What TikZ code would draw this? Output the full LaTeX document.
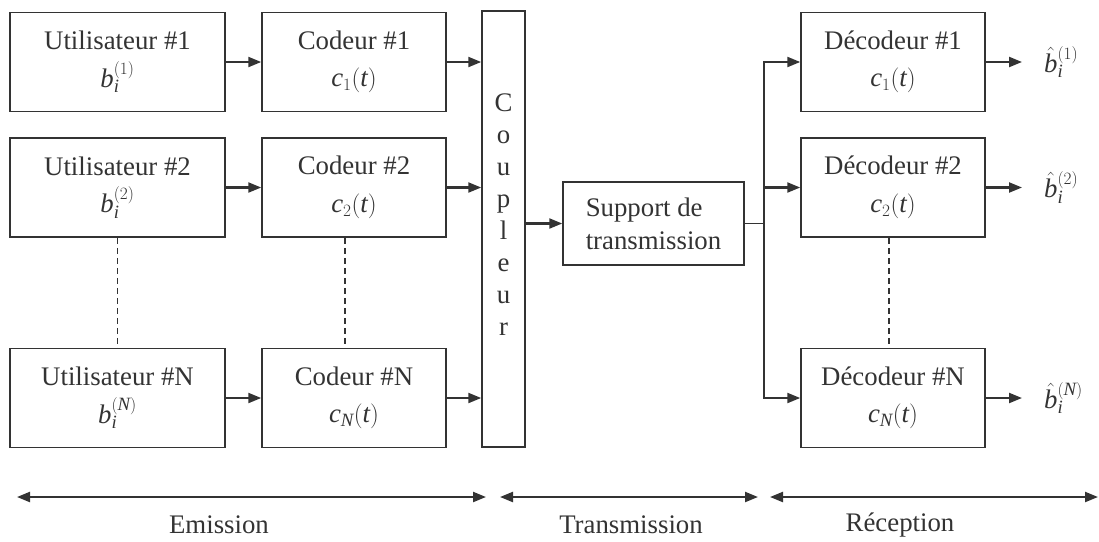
\documentclass[tikz,border=0pt]{standalone}
\usepackage{fontspec}
\setmainfont{Liberation Serif}
\usetikzlibrary{arrows.meta}
\definecolor{trait}{HTML}{333333}
\tikzset{>={Triangle[length=13pt,width=10pt]}}
\newcommand{\bits}[1]{$\mathit{b}_{\mathit{i}}^{(#1)}$}
\newcommand{\bitsest}[1]{$\hat{\mathit{b}}_{\mathit{i}}^{(#1)}$}
\newcommand{\code}[1]{$\mathit{c}_{#1}(\mathit{t})$}

\begin{document}
\begin{tikzpicture}[x=1pt, y=-1pt,
  font=\fontsize{26.8}{33}\selectfont,
  bloc/.style={draw=trait, line width=1.5pt, text=trait, align=center, inner sep=0pt, minimum height=99pt},
  fleche/.style={->, draw=trait, line width=2.2pt},
  pointille/.style={draw=trait, line width=1.3pt, dash pattern=on 6pt off 4pt},
  etiq/.style={text=trait, inner sep=0pt}]
\useasboundingbox (0,0) rectangle (1099,541);
% emission
\node[bloc, minimum width=215pt] (U1) at (117.5,62) {Utilisateur \#1\\[4.5pt] \bits{1}};
\node[bloc, minimum width=215pt] (U2) at (117.5,187.5) {Utilisateur \#2\\[4.5pt] \bits{2}};
\node[bloc, minimum width=215pt] (UN) at (117.5,398) {Utilisateur \#N\\[4.5pt] \bits{\mathit{N}}};
\node[bloc, minimum width=184pt] (C1) at (354,62) {Codeur \#1\\[4.5pt] \code{1}};
\node[bloc, minimum width=184pt] (C2) at (354,187.5) {Codeur \#2\\[4.5pt] \code{2}};
\node[bloc, minimum width=184pt] (CN) at (354,398) {Codeur \#N\\[4.5pt] \code{\mathit{N}}};
\node[bloc, minimum width=43pt, minimum height=436pt] (coupleur) at (503.5,229) {};
\node[etiq, align=center, font=\fontsize{26.8}{32}\selectfont] (lettres) at (503.5,215) {C\\o\\u\\p\\l\\e\\u\\r};
% transmission
\node[bloc, minimum width=181pt, minimum height=83pt, align=left] (support) at (653.5,223.5) {Support de\\transmission};
\coordinate (noeud) at (764,223.5);
% reception
\node[bloc, minimum width=184pt] (D1) at (893,62) {Décodeur \#1\\[4.5pt] \code{1}};
\node[bloc, minimum width=184pt] (D2) at (893,187.5) {Décodeur \#2\\[4.5pt] \code{2}};
\node[bloc, minimum width=184pt] (DN) at (893,398) {Décodeur \#N\\[4.5pt] \code{\mathit{N}}};
\node[etiq, anchor=west] (B1) at (1044,62) {\bitsest{1}};
\node[etiq, anchor=west] (B2) at (1044,187.5) {\bitsest{2}};
\node[etiq, anchor=west] (BN) at (1044,398) {\bitsest{\mathit{N}}};

\foreach \k in {1,2,N} {
  \draw[fleche] (U\k.east) -- (C\k.west);
  \draw[fleche] (C\k.east) -- (C\k.east -| coupleur.west);
  \draw[fleche] (noeud) |- (D\k.west);
  \draw[fleche, shorten >=22pt] (D\k.east) -- (B\k.west);
}
\draw[fleche] (support.west -| coupleur.east) -- (support.west);
\draw[draw=trait, line width=1.5pt] (support.east) -- (noeud);

\draw[pointille] (U2.south) -- (UN.north);
\draw[pointille] ([xshift=-9pt]C2.south) -- ([xshift=-9pt]CN.north);
\draw[pointille] ([xshift=-4pt]D2.south) -- ([xshift=-4pt]DN.north);

% phases
\coordinate (e1) at (17,497);
\coordinate (e2) at (486,497);
\coordinate (t1) at (500,497);
\coordinate (t2) at (758,497);
\coordinate (r1) at (770,497);
\coordinate (r2) at (1098,497);
\draw[fleche, <->] (e1) -- (e2);
\draw[fleche, <->] (t1) -- (t2);
\draw[fleche, <->] (r1) -- (r2);
\node[etiq] (emission) at (219,525) {Emission};
\node[etiq] (transmission) at (631,525) {Transmission};
\node[etiq] (reception) at (900,525) {Réception};
\end{tikzpicture}
\end{document}
